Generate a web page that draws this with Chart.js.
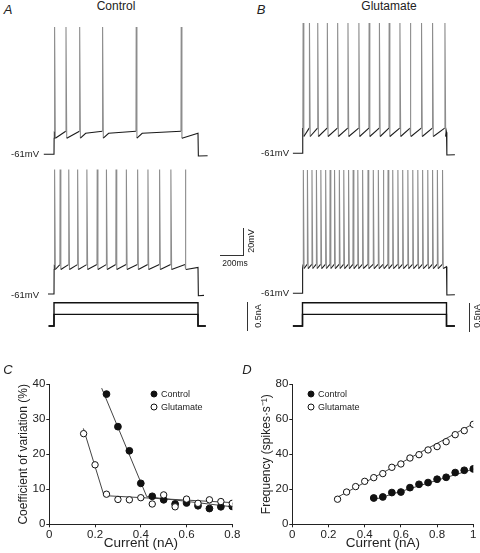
<!DOCTYPE html>
<html>
<head>
<meta charset="utf-8">
<script src="https://cdn.jsdelivr.net/npm/chart.js@4.4.1/dist/chart.umd.min.js"></script>
<style>
  body { margin: 0; background: #fff; }
  #fig { position: relative; width: 480px; height: 553px; overflow: hidden;
         font-family: "Liberation Sans", Arial, sans-serif; color: #222; }
  #fig canvas { position: absolute; }
  .lbl { position: absolute; white-space: nowrap; line-height: 1; transform: translate(-50%, -50%); }
  .right { transform: translate(-100%, -50%); }
  .rot { transform: translate(-50%, -50%) rotate(-90deg); }
  .panel { font-style: italic; font-size: 13px; }
  .title { font-size: 12px; }
  .mv { font-size: 9.5px; }
  .bar { position: absolute; background: #333; }
  .dot { position: absolute; width: 7px; height: 7px; border-radius: 50%; box-sizing: border-box;
         border: 1px solid #111; transform: translate(-50%, -50%); }
  .leg { position: absolute; font-size: 9px; line-height: 1; transform: translateY(-50%); }
</style>
</head>
<body>
<div id="fig">
  <canvas id="aTop" width="180" height="145" style="left:40px;top:18px"></canvas>
  <canvas id="aBot" width="180" height="135" style="left:40px;top:165px"></canvas>
  <canvas id="aCur" width="180" height="35" style="left:40px;top:298px"></canvas>
  <canvas id="bTop" width="180" height="145" style="left:288px;top:14px"></canvas>
  <canvas id="bBot" width="180" height="135" style="left:288px;top:165px"></canvas>
  <canvas id="bCur" width="180" height="35" style="left:288px;top:298px"></canvas>
  <canvas id="cvChart" width="250" height="191" style="left:0px;top:362px"></canvas>
  <canvas id="fiChart" width="240" height="191" style="left:240px;top:362px"></canvas>

  <div class="lbl panel" style="left:8px;top:9px">A</div>
  <div class="lbl panel" style="left:261px;top:9px">B</div>
  <div class="lbl panel" style="left:8px;top:369px">C</div>
  <div class="lbl panel" style="left:247px;top:369px">D</div>
  <div class="lbl title" style="left:116px;top:6px">Control</div>
  <div class="lbl title" style="left:389px;top:6px">Glutamate</div>

  <div class="lbl mv right" style="left:39px;top:154px">-61mV</div>
  <div class="lbl mv right" style="left:39px;top:295px">-61mV</div>
  <div class="lbl mv right" style="left:289px;top:153px">-61mV</div>
  <div class="lbl mv right" style="left:289px;top:293px">-61mV</div>

  <div class="bar" style="left:220px;top:255px;width:24px;height:1px"></div>
  <div class="bar" style="left:243px;top:228px;width:1px;height:28px"></div>
  <div class="lbl" style="left:235px;top:263px;font-size:8.5px">200ms</div>
  <div class="lbl rot" style="left:251px;top:241px;font-size:9px">20mV</div>
  <div class="bar" style="left:247px;top:302px;width:1px;height:29px"></div>
  <div class="lbl rot" style="left:258px;top:316px;font-size:9px">0.5nA</div>
  <div class="bar" style="left:469px;top:303px;width:1px;height:29px"></div>
  <div class="lbl rot" style="left:477px;top:316px;font-size:9px">0.5nA</div>

  <div class="dot" style="left:154px;top:394px;background:#111"></div>
  <div class="leg" style="left:161px;top:394px">Control</div>
  <div class="dot" style="left:154px;top:407px;background:#fff"></div>
  <div class="leg" style="left:161px;top:407px">Glutamate</div>
  <div class="dot" style="left:311px;top:394px;background:#111"></div>
  <div class="leg" style="left:318px;top:394px">Control</div>
  <div class="dot" style="left:311px;top:407px;background:#fff"></div>
  <div class="leg" style="left:318px;top:407px">Glutamate</div>
</div>
<script>
// ---- A/B: current-clamp recordings ----
const restMv = -61;
const stepMs = 1200;
const stepCurrents = [0.2, 0.4];   // nA

// spike times, ms after step onset
const controlLowSpikes = [5, 100, 214, 405, 685, 1060];
const controlHighSpikes = [5, 51, 123, 197, 274, 360, 437, 517, 603, 697, 783, 880, 974, 1094];
const glutLowSpikes = [5, 58, 127, 207, 293, 379, 470, 555, 641, 722, 812, 898, 992, 1084, 1187];
const glutHighSpikes = [7, 41, 79, 116, 153, 193, 230, 267, 307, 344, 384, 422, 461, 501, 546, 590,
                        632, 673, 713, 752, 795, 835, 878, 919, 961, 1001, 1044, 1084, 1124, 1167];

// [spike peak, AHP trough, pre-spike, plateau] in mV
const controlLowLevels = [30, -49.5, -44.5, -46];
const controlHighLevels = [28, -43.5, -40, -42];
const glutLowLevels = [32, -49, -43, -46];
const glutHighLevels = [27, -43.3, -40.3, -42];

// ---- C: coefficient of variation ----
const cvControlCurrent = [0.25, 0.3, 0.35, 0.4, 0.45, 0.5, 0.55, 0.6, 0.65, 0.7, 0.75, 0.8];
const cvControl = [37.2, 27.9, 21.0, 11.7, 8.0, 7.0, 5.8, 6.1, 5.3, 4.5, 5.0, 5.1];
const cvGlutCurrent = [0.15, 0.2, 0.25, 0.3, 0.35, 0.4, 0.45, 0.5, 0.55, 0.6, 0.65, 0.7, 0.75, 0.8];
const cvGlut = [25.9, 17.0, 8.6, 7.1, 7.0, 7.6, 5.8, 8.4, 5.0, 7.2, 6.0, 7.0, 6.5, 6.0];
const cvControlFitX = [0.229, 0.426, 0.8];
const cvControlFitY = [38.9, 7.9, 5.0];
const cvGlutFitX = [0.149, 0.239, 0.8];
const cvGlutFitY = [27.4, 8.2, 6.2];

// ---- D: frequency-current ----
const fiControlCurrent = [0.45, 0.5, 0.55, 0.6, 0.65, 0.7, 0.75, 0.8, 0.85, 0.9, 0.95, 1.0];
const fiControl = [15.0, 15.6, 18.1, 18.4, 20.9, 22.8, 23.8, 25.7, 26.8, 29.5, 30.8, 31.6];
const fiGlutCurrent = [0.25, 0.3, 0.35, 0.4, 0.45, 0.5, 0.55, 0.6, 0.65, 0.7, 0.75, 0.8, 0.85, 0.9, 0.95, 1.0];
const fiGlut = [14.3, 18.4, 21.5, 24.5, 26.6, 28.9, 32.5, 34.4, 37.8, 39.7, 42.4, 44.3, 47.1, 51.1, 53.4, 57.0];
const fiControlFitX = [0.447, 1.005];
const fiControlFitY = [13.9, 31.6];
const fiGlutFitX = [0.245, 1.005];
const fiGlutFitY = [15.2, 57.6];

const xy = (xs, ys) => xs.map((x, i) => ({ x: x, y: ys[i] }));

// voltage trace from spike times
function buildTrace(spikes, levels, span) {
    const [peak, trough, pre, plateau] = levels;
    const pts = [{ x: span[0], y: restMv }, { x: 0, y: restMv }, { x: 1, y: trough }];
    spikes.forEach((s, i) => {
        const next = i < spikes.length - 1 ? spikes[i + 1] : stepMs;
        pts.push({ x: s - 2, y: pre });
        pts.push({ x: s, y: peak });
        pts.push({ x: s + 6, y: trough });
        if (next - s > 150) pts.push({ x: s + 50, y: plateau });
    });
    pts.push({ x: stepMs, y: plateau });
    pts.push({ x: stepMs + 3, y: restMv - 1.2 });
    pts.push({ x: span[1], y: restMv - 1 });
    return pts;
}

function buildStep(amp, span) {
    return [{ x: span[0], y: 0 }, { x: 0, y: 0 }, { x: 0, y: amp },
            { x: stepMs, y: amp }, { x: stepMs, y: 0 }, { x: span[1], y: 0 }];
}

// pixel scale of the recordings (from the 200 ms / 20 mV / 0.5 nA bars)
const pxPerMs = 24 / 200;
const pxPerMv = 28 / 20;
const pxPerNa = 29 / 0.5;

// canvas box + where t=0 and the reference level sit on the page
function traceChart(id, box, x0, y0, yRef, pxPerUnit, datasets) {
    new Chart(document.getElementById(id), {
        type: "line",
        data: { datasets: datasets },
        options: {
            responsive: false,
            animation: false,
            events: [],
            layout: { padding: 0 },
            plugins: { legend: { display: false }, tooltip: { enabled: false } },
            elements: { point: { radius: 0 }, line: { tension: 0 } },
            scales: {
                x: { type: "linear", display: false,
                     min: (box.left - x0) / pxPerMs, max: (box.left + box.width - x0) / pxPerMs },
                y: { display: false,
                     min: yRef - (box.top + box.height - y0) / pxPerUnit,
                     max: yRef + (y0 - box.top) / pxPerUnit }
            }
        }
    });
}

function vTrace(pts) {
    return {
        data: pts, borderWidth: 1.1, borderColor: "#1a1a1a", clip: false,
        segment: {
            borderColor: c => (c.p0.parsed.y > -30 || c.p1.parsed.y > -30) ? "#8c8c8c" : "#1a1a1a"
        }
    };
}
function iTrace(pts) {
    return { data: pts, borderWidth: 1.4, borderColor: "#111", clip: false };
}

traceChart("aTop", { left: 40, top: 18, width: 180, height: 145 }, 54, 154.3, restMv, pxPerMv,
    [vTrace(buildTrace(controlLowSpikes, controlLowLevels, [-85, 1280]))]);
traceChart("aBot", { left: 40, top: 165, width: 180, height: 135 }, 54, 294, restMv, pxPerMv,
    [vTrace(buildTrace(controlHighSpikes, controlHighLevels, [-50, 1250]))]);
traceChart("aCur", { left: 40, top: 298, width: 180, height: 35 }, 54, 326, 0, pxPerNa,
    stepCurrents.map(a => iTrace(buildStep(a, [-45, 1265]))));
traceChart("bTop", { left: 288, top: 14, width: 180, height: 145 }, 302.5, 153.3, restMv, pxPerMv,
    [vTrace(buildTrace(glutLowSpikes, glutLowLevels, [-80, 1270]))]);
traceChart("bBot", { left: 288, top: 165, width: 180, height: 135 }, 302.5, 293.3, restMv, pxPerMv,
    [vTrace(buildTrace(glutHighSpikes, glutHighLevels, [-80, 1270]))]);
traceChart("bCur", { left: 288, top: 298, width: 180, height: 35 }, 302.5, 326, 0, pxPerNa,
    stepCurrents.map(a => iTrace(buildStep(a, [-80, 1270]))));

// ---- scatter panels ----
const tickFont = { family: "Liberation Sans", size: 11.5 };
function axis(min, max, step, title, titlePad, size) {
    return {
        type: "linear", min: min, max: max,
        ticks: { stepSize: step, color: "#222", font: tickFont, padding: 1,
                 callback: v => String(+v.toFixed(1)) },
        grid: { drawOnChartArea: false, drawTicks: true, tickLength: 3, color: "#222" },
        border: { display: true, color: "#222", width: 1 },
        title: { display: true, text: title, color: "#222", padding: titlePad,
                 font: { family: "Liberation Sans", size: size } }
    };
}
function filled(data) {
    return { type: "scatter", data: data, order: 1, pointRadius: 3.4,
             pointBackgroundColor: "#111", pointBorderColor: "#111", pointBorderWidth: 1 };
}
function open(data) {
    return { type: "scatter", data: data, order: 1, pointRadius: 3.2,
             pointBackgroundColor: "#fff", pointBorderColor: "#111", pointBorderWidth: 1 };
}
function fitLine(data) {
    return { type: "line", data: data, order: 2, borderColor: "#444", borderWidth: 1,
             pointRadius: 0, tension: 0 };
}

function scatterChart(id, datasets, xAx, yAx, pad, yWidth, xHeight) {
    yAx.afterFit = s => { s.width = yWidth; };
    xAx.afterFit = s => { s.height = xHeight; };
    new Chart(document.getElementById(id), {
        type: "scatter",
        data: { datasets: datasets },
        options: {
            responsive: false, animation: false, events: [],
            layout: { padding: pad },
            plugins: { legend: { display: false }, tooltip: { enabled: false } },
            scales: { x: xAx, y: yAx }
        }
    });
}

scatterChart("cvChart", [
        fitLine(xy(cvControlFitX, cvControlFitY)),
        fitLine(xy(cvGlutFitX, cvGlutFitY)),
        open(xy(cvGlutCurrent, cvGlut)),
        filled(xy(cvControlCurrent, cvControl))
    ],
    axis(0, 0.8, 0.2, "Current (nA)", { top: 0, bottom: 2 }, 13.5),
    axis(0, 40, 10, "Coefficient of variation (%)", { top: 16, bottom: 0 }, 12),
    { left: 0, right: 17.7, top: 22.3, bottom: 0 }, 49.3, 28.7);

scatterChart("fiChart", [
        fitLine(xy(fiControlFitX, fiControlFitY)),
        fitLine(xy(fiGlutFitX, fiGlutFitY)),
        open(xy(fiGlutCurrent, fiGlut)),
        filled(xy(fiControlCurrent, fiControl))
    ],
    axis(0, 1, 0.2, "Current (nA)", { top: 0, bottom: 2 }, 13.5),
    axis(0, 80, 20, "Frequency (spikes\u00B7s\u207B\u00B9)", { top: 19.8, bottom: 0 }, 12),
    { left: 0, right: 6.7, top: 22, bottom: 0 }, 52.3, 28.7);
</script>
</body>
</html>
